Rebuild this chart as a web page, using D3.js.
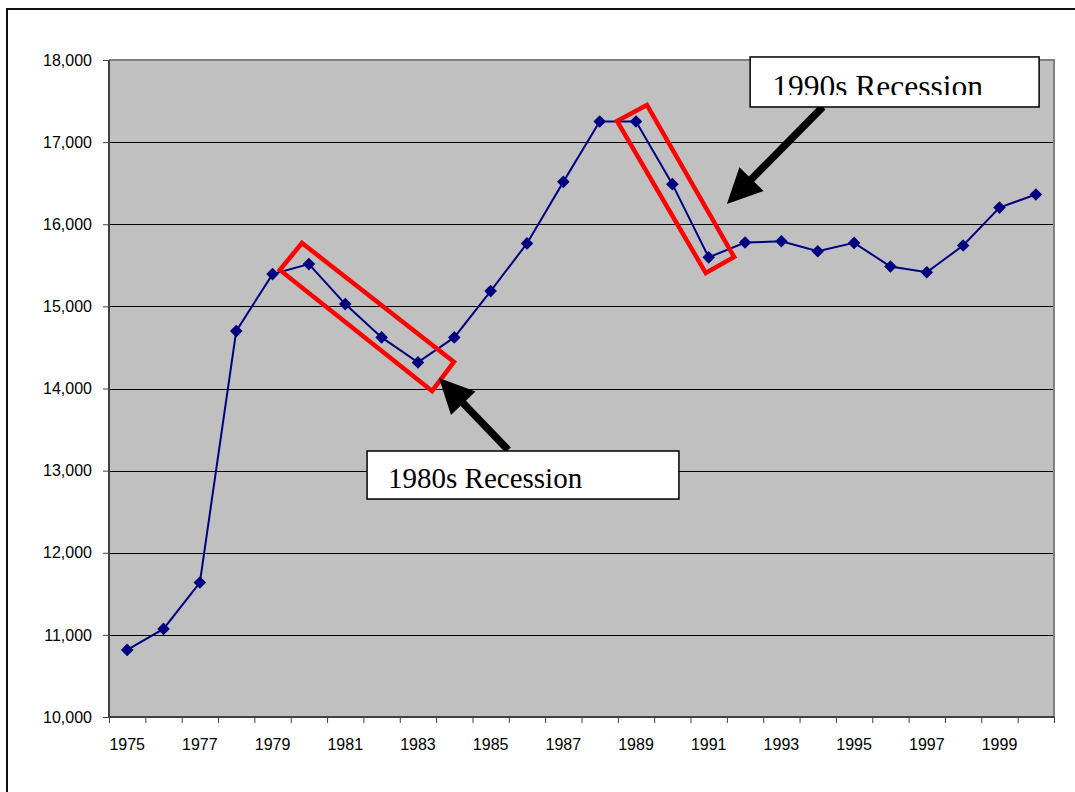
<!DOCTYPE html>
<html>
<head>
<meta charset="utf-8">
<script src="https://cdn.jsdelivr.net/npm/d3@7"></script>
<style>
  body { margin: 0; background: #fff; }
  svg { display: block; }
</style>
</head>
<body>
<svg id="chart" width="1075" height="792"></svg>
<script>
// Annual series, 1975–2000
const years = [1975, 1976, 1977, 1978, 1979, 1980, 1981, 1982, 1983, 1984, 1985, 1986, 1987,
               1988, 1989, 1990, 1991, 1992, 1993, 1994, 1995, 1996, 1997, 1998, 1999, 2000];
const values = [10817, 11073, 11637, 14699, 15393, 15515, 15028, 14622, 14318, 14622, 15186, 15767, 16516,
                17251, 17251, 16488, 15597, 15777, 15793, 15671, 15773, 15485, 15416, 15741, 16203, 16362];
const yTicks = [10000, 11000, 12000, 13000, 14000, 15000, 16000, 17000, 18000];
const xTickLabels = [1975, 1977, 1979, 1981, 1983, 1985, 1987, 1989, 1991, 1993, 1995, 1997, 1999];

// Callouts, placed in data units (fractional year, value)
const calloutText = ["1980s Recession", "1990s Recession"];
const calloutBoxes = [
  [[1981.60, 13239], [1990.18, 12654]],
  [[1992.14, 18037], [2000.09, 17428]]
];
const recessionFrames = [
  [[1979.81, 15772], [1983.99, 14323], [1983.39, 13970], [1979.20, 15443]],
  [[1988.48, 17257], [1989.30, 17452], [1991.70, 15601], [1990.92, 15406]]
];
const calloutArrows = [
  [[1985.48, 13251], [1983.58, 14128]],
  [[1994.14, 17428], [1991.50, 16247]]
];

const svg = d3.select("#chart");
const W = 1075, H = 792;
const plot = { left: 109, right: 1054, top: 60, bottom: 717 };

// Outer frame (left and top edges)
svg.append("path")
  .attr("d", `M7,${H} L7,9 L${W},9`)
  .attr("fill", "none")
  .attr("stroke", "#111")
  .attr("stroke-width", 2);

const x = d3.scaleBand().domain(years).range([plot.left, plot.right]).padding(0);
const bw = x.bandwidth();
const xc = d => x(d) + bw / 2;
// continuous year position for callouts
const xf = d3.scaleLinear().domain([1975, 2000]).range([xc(1975), xc(2000)]);
const y = d3.scaleLinear().domain([10000, 18000]).range([plot.bottom, plot.top]);
const P = ([a, b]) => [xf(a), y(b)];

// Plot area
svg.append("rect")
  .attr("x", plot.left).attr("y", plot.top)
  .attr("width", plot.right - plot.left).attr("height", plot.bottom - plot.top)
  .attr("fill", "#c0c0c0");

// Gridlines
svg.append("g")
  .selectAll("line")
  .data(yTicks.filter(t => t > 10000 && t < 18000))
  .join("line")
  .attr("x1", plot.left).attr("x2", plot.right)
  .attr("y1", d => Math.round(y(d)) + 0.5).attr("y2", d => Math.round(y(d)) + 0.5)
  .attr("stroke", "#000").attr("stroke-width", 1);

// Plot border top/right
svg.append("path")
  .attr("d", `M${plot.left},${plot.top} L${plot.right},${plot.top} L${plot.right},${plot.bottom}`)
  .attr("fill", "none").attr("stroke", "#808080").attr("stroke-width", 2);

// Y axis
const yAxis = svg.append("g")
  .attr("transform", `translate(${plot.left},0)`)
  .call(d3.axisLeft(y).tickValues(yTicks).tickFormat(d3.format(",")).tickSize(6).tickPadding(11));
yAxis.select(".domain").attr("stroke", "#404040").attr("stroke-width", 2)
  .attr("d", `M0,${plot.top}V${plot.bottom}`);
yAxis.selectAll(".tick line").attr("stroke", "#404040");
yAxis.selectAll("text")
  .attr("font-family", "'Liberation Sans', Arial, sans-serif")
  .attr("font-size", 16).attr("fill", "#000");

// X axis: ticks on category boundaries, labels on every other category
const xb = d3.scaleLinear().domain([0, years.length]).range([plot.left, plot.right]);
const xTicksG = svg.append("g")
  .attr("transform", `translate(0,${plot.bottom})`)
  .call(d3.axisBottom(xb).tickValues(d3.range(0, years.length + 1)).tickFormat("").tickSize(6));
xTicksG.select(".domain").attr("stroke", "#404040").attr("stroke-width", 2)
  .attr("d", `M${plot.left},0H${plot.right}`);
xTicksG.selectAll(".tick line").attr("stroke", "#404040");

const xLabels = svg.append("g")
  .attr("transform", `translate(0,${plot.bottom})`)
  .call(d3.axisBottom(x).tickValues(xTickLabels).tickSize(0).tickPadding(22));
xLabels.select(".domain").remove();
xLabels.selectAll("text")
  .attr("font-family", "'Liberation Sans', Arial, sans-serif")
  .attr("font-size", 16).attr("fill", "#000");

// Series line
const series = years.map((yr, i) => ({ yr, v: values[i] }));
svg.append("path")
  .datum(series)
  .attr("d", d3.line().x(d => xc(d.yr)).y(d => y(d.v)))
  .attr("fill", "none").attr("stroke", "#000080").attr("stroke-width", 2);

// Diamond markers
const r = 6.3;
svg.append("g")
  .selectAll("path")
  .data(series)
  .join("path")
  .attr("d", d => {
    const cx = xc(d.yr), cy = y(d.v);
    return `M${cx},${cy - r}L${cx + r},${cy}L${cx},${cy + r}L${cx - r},${cy}Z`;
  })
  .attr("fill", "#000080");

// Recession frames
svg.append("g")
  .selectAll("polygon")
  .data(recessionFrames)
  .join("polygon")
  .attr("points", d => d.map(P).map(p => p.join(",")).join(" "))
  .attr("fill", "none").attr("stroke", "#ff0000").attr("stroke-width", 4.5)
  .attr("stroke-linejoin", "miter");

// Block arrows
function arrowPath(tail, tip, shaft, headW, headL) {
  const [x0, y0] = P(tail), [x1, y1] = P(tip);
  const dx = x1 - x0, dy = y1 - y0, len = Math.hypot(dx, dy);
  const ux = dx / len, uy = dy / len, nx = -uy, ny = ux;
  const bx = x1 - ux * headL, by = y1 - uy * headL;
  const pts = [
    [x0 + nx * shaft / 2, y0 + ny * shaft / 2],
    [bx + nx * shaft / 2, by + ny * shaft / 2],
    [bx + nx * headW / 2, by + ny * headW / 2],
    [x1, y1],
    [bx - nx * headW / 2, by - ny * headW / 2],
    [bx - nx * shaft / 2, by - ny * shaft / 2],
    [x0 - nx * shaft / 2, y0 - ny * shaft / 2]
  ];
  return "M" + pts.map(p => p.join(",")).join("L") + "Z";
}
svg.append("g")
  .selectAll("path")
  .data(calloutArrows)
  .join("path")
  .attr("d", d => arrowPath(d[0], d[1], 7.5, 34, 35))
  .attr("fill", "#000");

// Callout boxes with text
const fontSizes = [29, 31.5];
const textInset = [[21, 37, 48], [22, 40, 38]]; // x offset, baseline, visible height
const defs = svg.append("defs");
calloutBoxes.forEach((b, i) => {
  const [x0, y0] = P(b[0]), [x1, y1] = P(b[1]);
  svg.append("rect")
    .attr("x", x0).attr("y", y0).attr("width", x1 - x0).attr("height", y1 - y0)
    .attr("fill", "#fff").attr("stroke", "#000").attr("stroke-width", 1.5);
  defs.append("clipPath").attr("id", "clip" + i)
    .append("rect")
    .attr("x", x0).attr("y", y0).attr("width", x1 - x0).attr("height", textInset[i][2]);
  svg.append("text")
    .attr("x", x0 + textInset[i][0]).attr("y", y0 + textInset[i][1])
    .attr("clip-path", `url(#clip${i})`)
    .attr("font-family", "'Liberation Serif', 'Times New Roman', serif")
    .attr("font-size", fontSizes[i]).attr("fill", "#000")
    .text(calloutText[i]);
});
</script>
</body>
</html>
